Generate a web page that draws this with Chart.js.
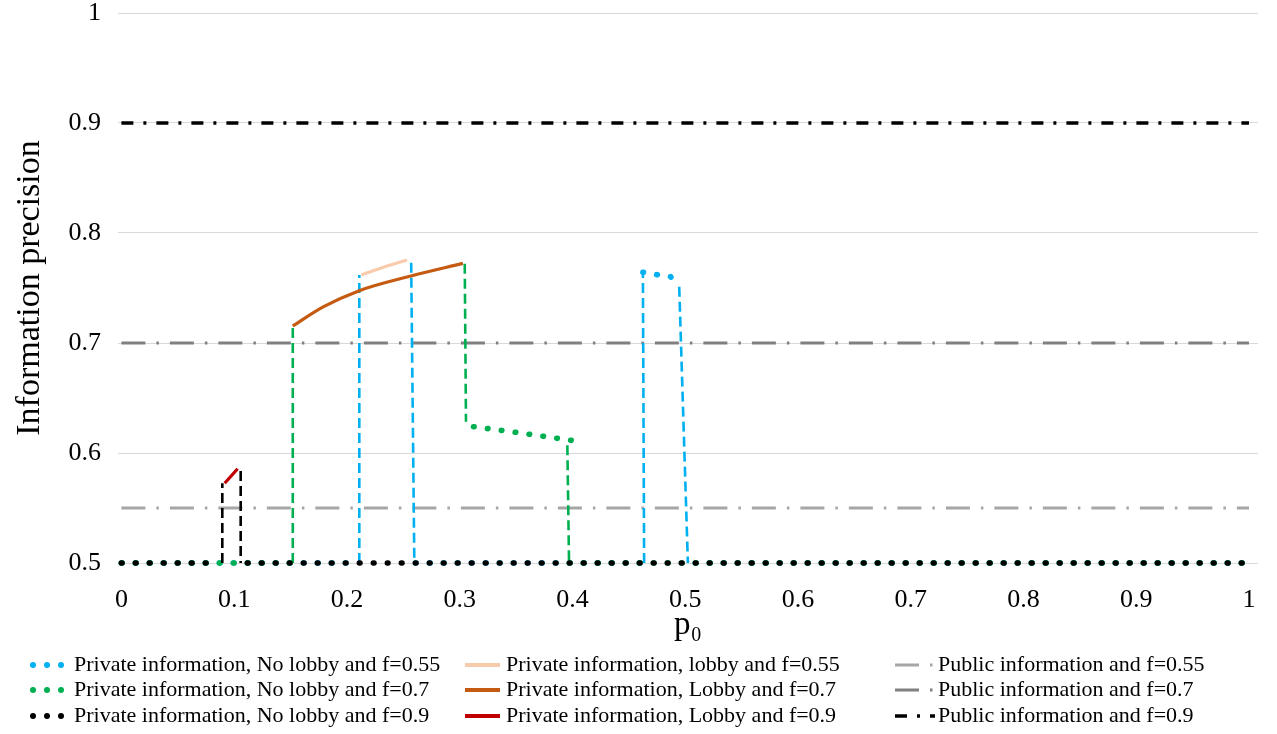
<!DOCTYPE html>
<html>
<head>
<meta charset="utf-8">
<script src="https://cdn.jsdelivr.net/npm/chart.js@4.4.0/dist/chart.umd.min.js"></script>
<style>
  html, body { margin: 0; padding: 0; background: #fff; }
  #wrap { width: 1277px; height: 734px; position: relative; }
</style>
</head>
<body>
<div id="wrap"><canvas id="precisionChart"></canvas></div>
<script>
// ticks
const xTicks = [0, 0.1, 0.2, 0.3, 0.4, 0.5, 0.6, 0.7, 0.8, 0.9, 1];
const yTicks = [0.5, 0.6, 0.7, 0.8, 0.9, 1];

// Private information, No lobby (null = break in the line)
const noLobby55X = [0, 0.211, 0.211, 0.235, 0.257, 0.2598, 0.4636, 0.4625, 0.4749, 0.487, 0.4947, 0.5024, 1];
const noLobby55Y = [0.5, 0.5, 0.7618, null, 0.773, 0.5, 0.5, 0.7643, 0.7621, 0.7603, 0.7512, 0.5, 0.5];
const noLobby70X = [0, 0.152, 0.152, 0.23, 0.3045, 0.3056, 0.308, 0.3123, 0.3496, 0.3989, 0.397, 0.3955, 0.397, 1];
const noLobby70Y = [0.5, 0.5, 0.7148, null, 0.772, 0.6285, null, 0.6239, 0.6188, 0.6115, null, 0.607, 0.5, 0.5];
const noLobby90X = [0, 0.086, 0.088, 0.0895, 0.0895, 0.097, 0.1058, 0.1058, 1];
const noLobby90Y = [0.5, 0.5, null, 0.5, 0.5725, null, 0.5836, 0.5, 0.5];

// Private information, Lobby
const lobby55X = [0.2128, 0.233, 0.2533];
const lobby55Y = [0.7618, 0.769, 0.7755];
const lobby70X = [0.1519, 0.1794, 0.2110, 0.2568, 0.3029];
const lobby70Y = [0.7155, 0.7330, 0.7476, 0.7609, 0.7724];
const lobby90X = [0.0916, 0.1031];
const lobby90Y = [0.5725, 0.5857];

// Public information
const publicX = [0, 1];
const public55Y = [0.55, 0.55];
const public70Y = [0.7, 0.7];
const public90Y = [0.9, 0.9];

const legendLabels = [
  "Private information, No lobby and f=0.55",
  "Private information, No lobby and f=0.7",
  "Private information, No lobby and f=0.9",
  "Private information, lobby and f=0.55",
  "Private information, Lobby and f=0.7",
  "Private information, Lobby and f=0.9",
  "Public information and f=0.55",
  "Public information and f=0.7",
  "Public information and f=0.9"
];

const FONT = "'Liberation Serif', 'Times New Roman', serif";
Chart.defaults.font.family = FONT;
Chart.defaults.color = "#000";

const pts = (xs, ys) => xs.map((x, i) => ({ x: x, y: ys[i] }));

// steep segments are drawn dashed, the flat ones as round dots
const DOT_GAP = 14;
const DOT_DASH = [0.6, DOT_GAP - 0.6];
const isVertical = ctx => Math.abs(ctx.p1.y - ctx.p0.y) > 3 * Math.abs(ctx.p1.x - ctx.p0.x);
const noLobbySegment = {
  borderDash: ctx => isVertical(ctx) ? [10, 5] : DOT_DASH,
  borderWidth: ctx => isVertical(ctx) ? 2.6 : 5.6,
  borderCapStyle: ctx => isVertical(ctx) ? "butt" : "round",
  // keep dots of flat runs on one common grid so the series overlap
  borderDashOffset: ctx => {
    if (isVertical(ctx) || ctx.p0.y !== ctx.p1.y) return 0;
    const x0 = ctx.chart.scales.x.getPixelForValue(0);
    return (ctx.p0.x - x0) % DOT_GAP;
  }
};

function noLobby(label, xs, ys, color) {
  return { label: label, data: pts(xs, ys), borderColor: color, backgroundColor: color, clip: false,
    borderWidth: 5.6, borderDash: DOT_DASH, borderCapStyle: "round", segment: noLobbySegment, kind: "dots" };
}
function lobby(label, xs, ys, color) {
  return { label: label, data: pts(xs, ys), borderColor: color, backgroundColor: color, clip: false,
    borderWidth: 3.2, cubicInterpolationMode: "monotone", kind: "line" };
}
function publicLine(label, ys, color, dash, width) {
  return { label: label, data: pts(publicX, ys), borderColor: color, backgroundColor: color, clip: false,
    borderWidth: width, borderDash: dash, borderCapStyle: "butt", kind: "dashdot" };
}

// first dataset is drawn on top
const datasets = [
  lobby(legendLabels[5], lobby90X, lobby90Y, "#c00000"),
  lobby(legendLabels[4], lobby70X, lobby70Y, "#c55a11"),
  lobby(legendLabels[3], lobby55X, lobby55Y, "#f8cbad"),
  noLobby(legendLabels[2], noLobby90X, noLobby90Y, "#000000"),
  noLobby(legendLabels[1], noLobby70X, noLobby70Y, "#00b050"),
  noLobby(legendLabels[0], noLobby55X, noLobby55Y, "#00b0f0"),
  publicLine(legendLabels[8], public90Y, "#000000", [12, 10, 3, 10], 3.5),
  publicLine(legendLabels[7], public70Y, "#808080", [24, 11, 2.5, 11], 3),
  publicLine(legendLabels[6], public55Y, "#a6a6a6", [24, 11, 2.5, 11], 3)
];

// legend laid out in three columns, like the original
const gridLegend = {
  id: "gridLegend",
  afterDraw(chart) {
    const ctx = chart.ctx;
    const colX = [33, 465, 895];
    const textX = [74, 506, 938];
    const rowY = [665, 690, 716];
    ctx.save();
    legendLabels.forEach((text, i) => {
      const col = Math.floor(i / 3), row = i % 3;
      const ds = chart.data.datasets.find(d => d.label === text);
      const x0 = colX[col], y = rowY[row];
      ctx.strokeStyle = ds.borderColor;
      ctx.fillStyle = ds.borderColor;
      if (ds.kind === "dots") {
        for (let k = 0; k < 3; k++) {
          ctx.beginPath();
          ctx.arc(x0 + k * 14, y, 3, 0, Math.PI * 2);
          ctx.fill();
        }
      } else if (ds.kind === "line") {
        ctx.lineWidth = 4;
        ctx.setLineDash([]);
        ctx.beginPath(); ctx.moveTo(x0, y); ctx.lineTo(x0 + 35, y); ctx.stroke();
      } else {
        ctx.lineWidth = ds.borderWidth;
        ctx.setLineDash(ds.borderDash);
        ctx.beginPath(); ctx.moveTo(x0, y); ctx.lineTo(x0 + 40, y); ctx.stroke();
        ctx.setLineDash([]);
      }
      ctx.fillStyle = "#000";
      ctx.font = "22px " + FONT;
      ctx.textBaseline = "middle";
      ctx.textAlign = "left";
      ctx.fillText(text, textX[col], y);
    });
    ctx.restore();
  }
};

const chart = new Chart(document.getElementById("precisionChart"), {
  type: "line",
  data: { datasets: datasets },
  plugins: [gridLegend],
  options: {
    responsive: true,
    maintainAspectRatio: false,
    animation: false,
    events: [],
    layout: { padding: { top: 0, right: 19, bottom: 89, left: 0 } },
    elements: { point: { radius: 0 }, line: { tension: 0 } },
    plugins: { legend: { display: false }, tooltip: { enabled: false } },
    scales: {
      x: {
        type: "linear",
        min: -0.003,
        max: 1.008,
        afterBuildTicks: scale => { scale.ticks = xTicks.map(v => ({ value: v })); },
        afterFit: scale => { scale.height = 82; },
        grid: { display: false },
        border: { display: false },
        ticks: { font: { size: 26 }, padding: 14, maxRotation: 0, callback: v => String(Math.round(v * 10) / 10) },
        title: { display: true, text: "p₀", font: { size: 33 }, padding: { top: 0, bottom: 0 } }
      },
      y: {
        min: 0.5,
        max: 1,
        afterBuildTicks: scale => { scale.ticks = yTicks.map(v => ({ value: v })); },
        afterFit: scale => { scale.width = 118; scale.paddingTop = 13; scale.paddingBottom = 13; },
        grid: { color: "#d9d9d9", lineWidth: 1, drawTicks: false },
        border: { display: false },
        ticks: { font: { size: 26, lineHeight: 1 }, padding: 17, callback: v => String(Math.round(v * 10) / 10) },
        title: { display: true, text: "Information precision", font: { size: 34 }, padding: { top: 10, bottom: 0 } }
      }
    }
  }
});
</script>
</body>
</html>
